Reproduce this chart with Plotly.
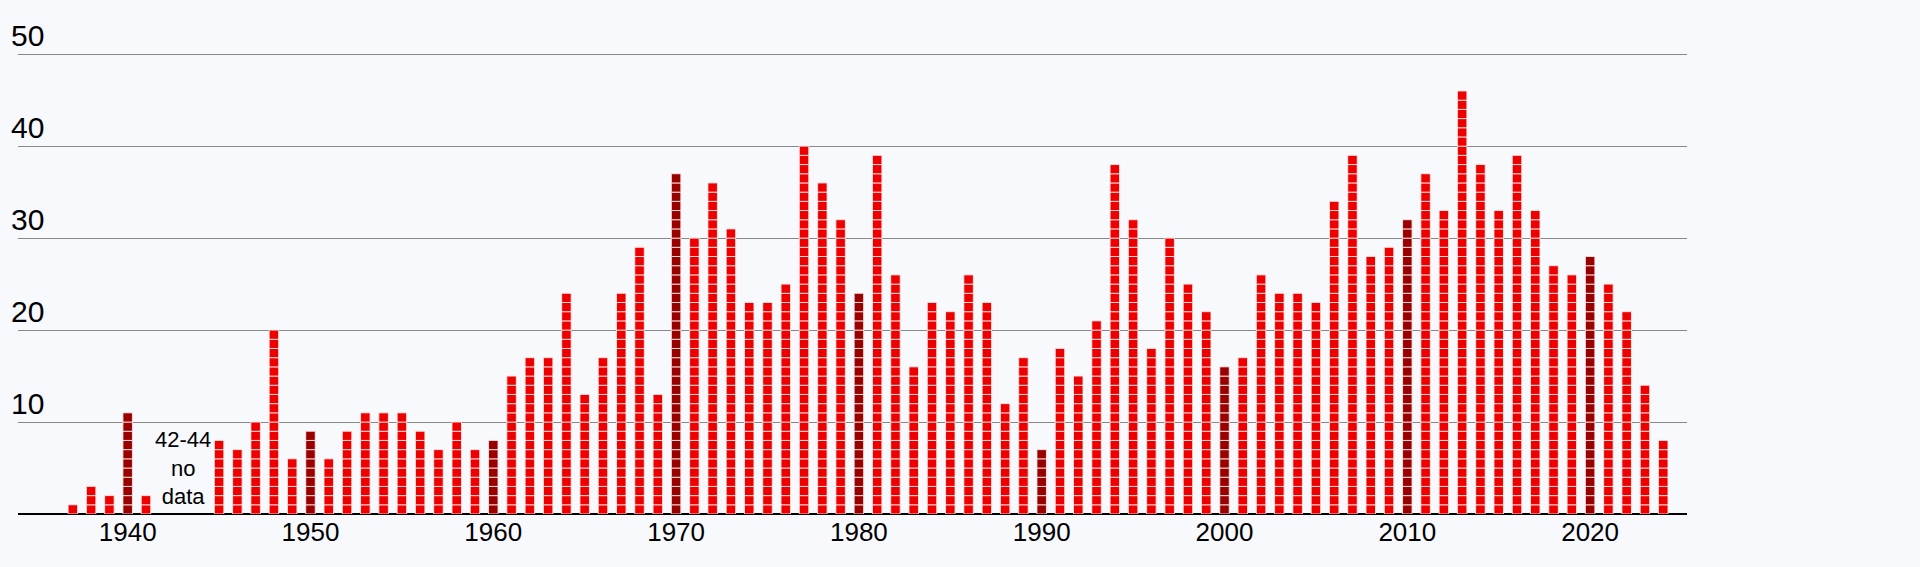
import plotly.graph_objects as go

years = [1937, 1938, 1939, 1940, 1941,
         1945, 1946, 1947, 1948, 1949, 1950, 1951, 1952, 1953, 1954, 1955, 1956, 1957, 1958, 1959,
         1960, 1961, 1962, 1963, 1964, 1965, 1966, 1967, 1968, 1969,
         1970, 1971, 1972, 1973, 1974, 1975, 1976, 1977, 1978, 1979,
         1980, 1981, 1982, 1983, 1984, 1985, 1986, 1987, 1988, 1989,
         1990, 1991, 1992, 1993, 1994, 1995, 1996, 1997, 1998, 1999,
         2000, 2001, 2002, 2003, 2004, 2005, 2006, 2007, 2008, 2009,
         2010, 2011, 2012, 2013, 2014, 2015, 2016, 2017, 2018, 2019,
         2020, 2021, 2022, 2023, 2024]
counts = [1, 3, 2, 11, 2,
          8, 7, 10, 20, 6, 9, 6, 9, 11, 11, 11, 9, 7, 10, 7,
          8, 15, 17, 17, 24, 13, 17, 24, 29, 13,
          37, 30, 36, 31, 23, 23, 25, 40, 36, 32,
          24, 39, 26, 16, 23, 22, 26, 23, 12, 17,
          7, 18, 15, 21, 38, 32, 18, 30, 25, 22,
          16, 17, 26, 24, 24, 23, 34, 39, 28, 29,
          32, 37, 33, 46, 38, 33, 39, 33, 27, 26,
          28, 25, 22, 14, 8]
highlight_years = [1940, 1950, 1960, 1970, 1980, 1990, 2000, 2010, 2020]
y_ticks = [10, 20, 30, 40, 50]
x_ticks = [1940, 1950, 1960, 1970, 1980, 1990, 2000, 2010, 2020]
gap_label = "42-44<br>no<br>data"

RED = "#EE0000"
DARK = "#990000"
BG = "#F7F9FD"
FONT = "Liberation Sans, Arial, sans-serif"

xs, bases, ones, colors = [], [], [], []
for yr, c in zip(years, counts):
    col = DARK if yr in highlight_years else RED
    for k in range(c):
        xs.append(yr)
        bases.append(k)
        ones.append(1)
        colors.append(col)

fig = go.Figure()
fig.add_trace(go.Bar(
    x=xs, y=ones, base=bases, width=0.52,
    marker=dict(color=colors, line=dict(color="rgba(255,235,235,0.85)", width=1)),
    hoverinfo="skip", showlegend=False,
))

annotations = []
for t in y_ticks:
    annotations.append(dict(
        x=0, xref="paper", xshift=-9, xanchor="left",
        y=t, yref="y", yanchor="bottom", yshift=0,
        text=str(t), showarrow=False,
        font=dict(family=FONT, size=30, color="#000000"),
    ))
annotations.append(dict(
    x=1943, xref="x", y=5, yref="y", text=gap_label, showarrow=False,
    font=dict(family=FONT, size=22, color="#000000"),
    xanchor="center", yanchor="middle",
))

fig.update_layout(
    width=1920, height=567,
    margin=dict(l=18, r=233, t=45, b=53),
    paper_bgcolor=BG, plot_bgcolor=BG,
    barmode="overlay",
    bargap=0,
    annotations=annotations,
    xaxis=dict(
        range=[1934, 2025.3], tickvals=x_ticks, ticktext=[str(v) for v in x_ticks],
        showgrid=False, zeroline=False, showline=False, ticks="",
        tickfont=dict(family=FONT, size=26, color="#000000"),
    ),
    yaxis=dict(
        range=[0, 51], tickvals=[0] + y_ticks, showticklabels=False,
        showgrid=True, gridcolor="#888888", gridwidth=1,
        zeroline=True, zerolinecolor="#000000", zerolinewidth=1.5,
        showline=False, ticks="",
    ),
)
fig.write_html(
    "out.html",
    config={"displayModeBar": False, "staticPlot": True},
    post_script="document.body.style.margin='0';document.body.style.overflow='hidden';document.body.style.background='" + BG + "';",
)
